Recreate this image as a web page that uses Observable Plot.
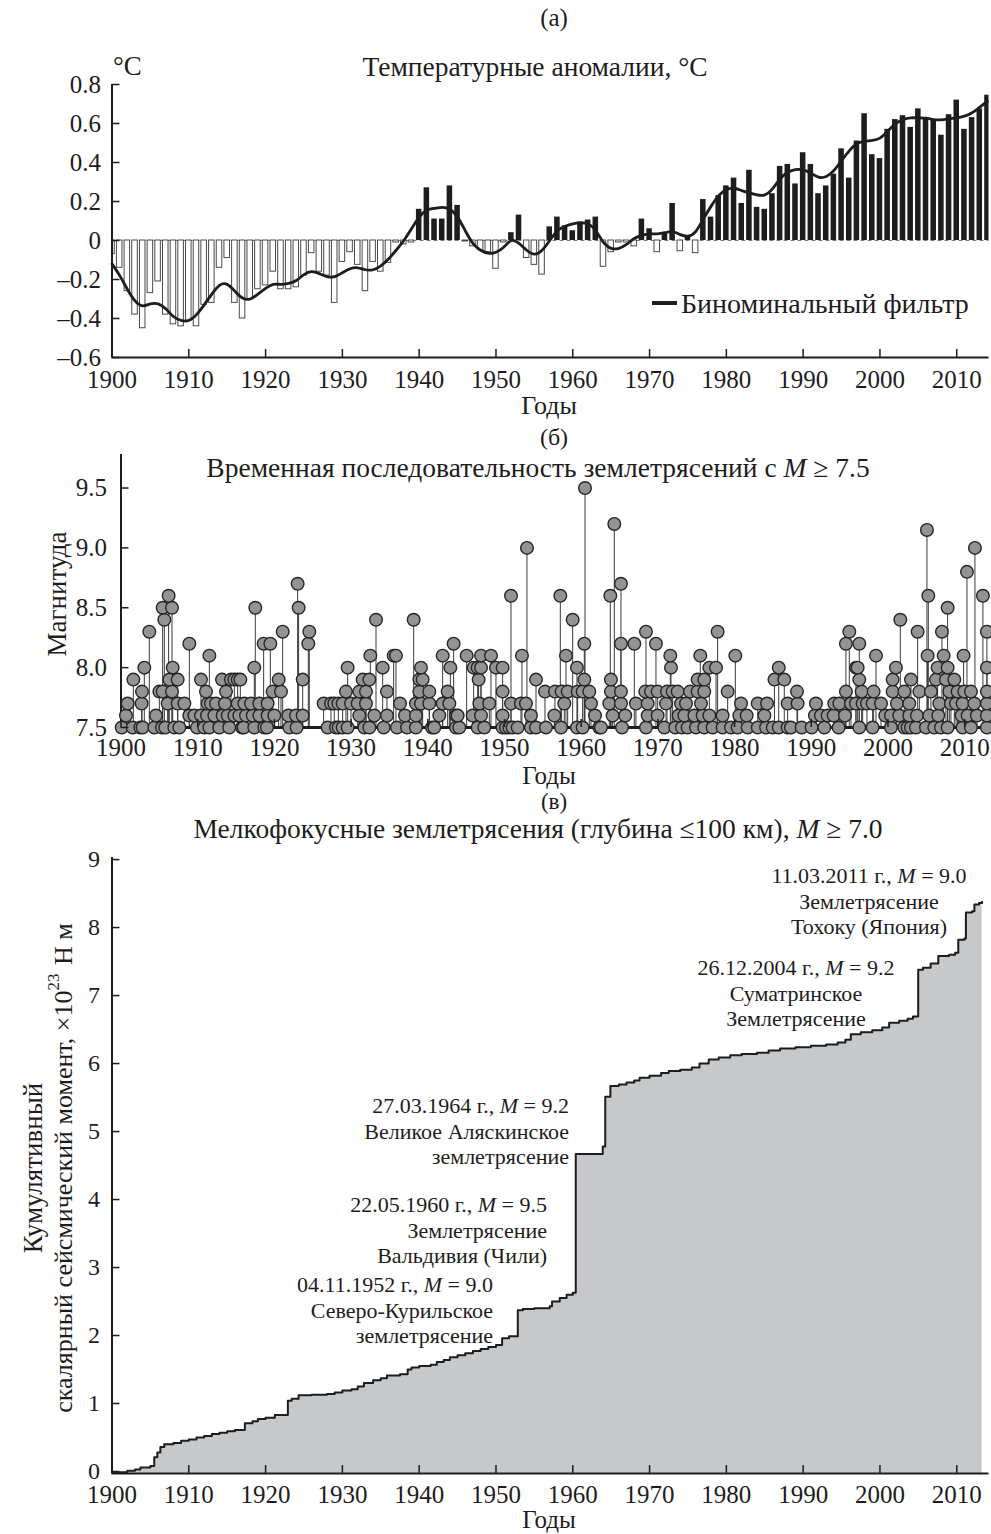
<!DOCTYPE html>
<html><head><meta charset="utf-8">
<script src="https://cdn.jsdelivr.net/npm/d3@7"></script>
<script src="https://cdn.jsdelivr.net/npm/@observablehq/plot@0.6"></script>
<style>
body{margin:0;background:#fff;}
#root{position:relative;width:991px;height:1534px;overflow:hidden;background:#fff;}
.pane{position:absolute;left:0;}
#overlay{position:absolute;left:0;top:0;pointer-events:none;}
</style></head><body><div id="root"></div>
<script>
const FONT = '"Liberation Serif", "Times New Roman", serif';
const INK = "#1e1c1d";

// ---------- Panel (а): temperature anomalies ----------
const tempFirstYear = 1900;
const tempAnomaly = [
  -0.07, -0.14, -0.26, -0.38, -0.45, -0.27, -0.21, -0.38, -0.43, -0.44,
  -0.41, -0.44, -0.33, -0.32, -0.14, -0.09, -0.32, -0.40, -0.30, -0.25,
  -0.23, -0.16, -0.25, -0.25, -0.24, -0.18, -0.065, -0.16, -0.18, -0.32,
  -0.11, -0.06, -0.125, -0.26, -0.11, -0.16, -0.115, -0.01, -0.02, -0.01,
  0.16, 0.27, 0.11, 0.11, 0.28, 0.18, -0.005, -0.03, -0.05, -0.06,
  -0.145, -0.01, 0.04, 0.13, -0.09, -0.125, -0.175, 0.07, 0.12, 0.075,
  0.05, 0.095, 0.105, 0.12, -0.135, -0.06, -0.01, -0.01, -0.03, 0.11,
  0.06, -0.06, 0.035, 0.19, -0.055, 0.02, -0.065, 0.21, 0.12, 0.23,
  0.28, 0.32, 0.19, 0.36, 0.17, 0.16, 0.24, 0.38, 0.39, 0.29,
  0.45, 0.39, 0.24, 0.28, 0.34, 0.47, 0.32, 0.51, 0.65, 0.44,
  0.42, 0.57, 0.62, 0.64, 0.58, 0.675, 0.63, 0.615, 0.54, 0.645,
  0.72, 0.57, 0.63, 0.675, 0.745
];
const binomialFilter = [
  -0.12, -0.18, -0.25, -0.31, -0.335, -0.325, -0.325, -0.35, -0.39, -0.41,
  -0.41, -0.38, -0.33, -0.275, -0.23, -0.225, -0.26, -0.295, -0.30, -0.275,
  -0.245, -0.225, -0.225, -0.22, -0.205, -0.175, -0.16, -0.17, -0.185, -0.185,
  -0.165, -0.145, -0.14, -0.15, -0.15, -0.13, -0.095, -0.05, 0.0, 0.06,
  0.12, 0.155, 0.165, 0.17, 0.16, 0.12, 0.05, -0.015, -0.05, -0.065,
  -0.06, -0.035, 0.0, -0.015, -0.05, -0.07, -0.05, 0.0, 0.05, 0.073,
  0.085, 0.09, 0.085, 0.05, -0.01, -0.04, -0.04, -0.02, 0.01, 0.026,
  0.034, 0.034, 0.04, 0.045, 0.03, 0.022, 0.045, 0.11, 0.175, 0.23,
  0.26, 0.268, 0.256, 0.244, 0.234, 0.234, 0.265, 0.316, 0.35, 0.364,
  0.362, 0.345, 0.325, 0.328, 0.359, 0.41, 0.46, 0.496, 0.508, 0.513,
  0.525, 0.56, 0.598, 0.62, 0.629, 0.629, 0.627, 0.62, 0.619, 0.624,
  0.629, 0.638, 0.655, 0.684, 0.713
];
const yearTicks = [1900, 1910, 1920, 1930, 1940, 1950, 1960, 1970, 1980, 1990, 2000, 2010];
const tempTicks = [-0.6, -0.4, -0.2, 0, 0.2, 0.4, 0.6, 0.8];

// ---------- Panel (б): earthquakes M >= 7.5 (years grouped by magnitude) ----------
const eqM75 = [1900.09, 1901.52, 1902.52, 1902.82, 1904.35, 1905.35, 1905.78, 1906.95, 1907.61, 1909.91, 1910.86, 1911.52, 1912.82, 1914.12, 1915.78, 1915.99, 1917.38, 1918.69, 1919.04, 1921.95, 1922.9, 1926.94, 1928.03, 1928.38, 1928.9, 1929.55, 1931.73, 1932.38, 1934.25, 1935.98, 1937.29, 1938.46, 1940.55, 1940.85, 1943.68, 1944.11, 1946.5, 1947.37, 1949.76, 1950.2, 1950.63, 1951.06, 1951.72, 1953.45, 1954.11,
  1955.41, 1957.37, 1959.45, 1960.19, 1962.36, 1962.58, 1965.32, 1968.45, 1970.84, 1972.27, 1973.14, 1973.88, 1974.97, 1976.05, 1977.14, 1978.44, 1979.53, 1980.4, 1981.71, 1983.02, 1984.11, 1984.98, 1985.76, 1986.92, 1987.35, 1988.75, 1990.05, 1991.7, 1993.57, 1996.26, 1998.0, 2000.39, 2002.13, 2002.56, 2003.0, 2003.65, 2004.96, 2006.04, 2006.91, 2007.78, 2009.73, 2010.82, 2012.9];
const eqM76 = [1900.65, 1904.56, 1908.91, 1909.56, 1910.43, 1911.21, 1912.17, 1913.26, 1913.91, 1914.78, 1915.43, 1916.3, 1917.17, 1918.04, 1919.12, 1919.99, 1921.82, 1922.82, 1923.69, 1931.07, 1933.03, 1934.68, 1937.03, 1938.46, 1941.5, 1943.68, 1943.89, 1945.85, 1946.94, 1949.76, 1953.45,
  1956.5, 1961.8, 1964.1, 1965.75, 1968.67, 1969.97, 1972.71, 1973.45, 1974.76, 1975.84, 1976.71, 1978.44, 1980.62, 1981.58, 1983.89, 1990.48, 1991.26, 1992.13, 1992.92, 1994.39, 1999.65, 2000.39, 2001.48, 2002.78, 2003.78, 2005.39, 2006.56, 2009.6, 2010.39, 2011.6, 2012.9];
const eqM77 = [1900.87, 1902.69, 1906.08, 1907.39, 1908.26, 1911.3, 1911.73, 1912.39, 1913.56, 1915.21, 1916.08, 1916.95, 1918.04, 1919.12, 1926.42, 1927.38, 1927.81, 1928.34, 1928.9, 1929.99, 1930.86, 1931.94, 1936.38, 1938.46, 1939.11, 1940.2, 1941.94, 1942.81, 1946.72, 1948.02, 1950.85, 1952.15, 1952.8,
  1957.8, 1961.28, 1963.67, 1965.19, 1967.14, 1968.67, 1971.06, 1973.01, 1973.67, 1975.62, 1980.84, 1983.02, 1984.24, 1986.92, 1988.22, 1990.61, 1993.0, 1993.66, 1995.18, 1995.83, 1996.7, 1997.26, 1998.0, 1999.09, 2001.17, 2002.78, 2006.69, 2008.21, 2008.87, 2009.73, 2011.26, 2012.9];
const eqM78 = [1902.74, 1905.0, 1905.43, 1906.65, 1911.08, 1913.69, 1919.77, 1920.86, 1929.33, 1931.07, 1931.94, 1934.68, 1938.9, 1940.2, 1942.59, 1949.76,
  1955.28, 1956.58, 1957.45, 1958.24, 1959.54, 1960.19, 1961.06, 1963.88, 1965.19, 1968.36, 1969.1, 1969.97, 1971.19, 1971.93, 1972.58, 1974.19, 1975.18, 1976.05, 1979.1, 1988.14, 1994.52, 1996.57, 1998.13, 2000.61, 2002.13, 2004.09, 2005.6, 2008.0, 2009.08, 2009.95, 2010.82, 2012.9];
const eqM79 = [1901.61, 1906.3, 1907.39, 1910.43, 1913.17, 1914.34, 1914.78, 1915.21, 1915.56, 1920.56, 1923.69, 1931.51, 1932.38, 1938.9, 1939.33, 1946.63, 1954.11,
  1960.41, 1963.88, 1975.18, 1976.05, 1985.2, 1986.48, 1996.26, 2000.61, 2003.0, 2006.26, 2007.56, 2008.65];
const eqM80 = [1903.04, 1906.74, 1917.38, 1929.55, 1934.12, 1939.11, 1942.94, 1945.98, 1946.5, 1946.94, 1948.89, 1949.76,
  1959.45, 1971.71, 1976.71, 1977.58, 1985.76, 1995.83, 1996.05, 2001.04, 2006.47, 2007.78, 2012.9];
const eqM81 = [1911.52, 1932.51, 1935.55, 1935.85, 1941.94, 1945.07, 1946.94, 1948.24, 1952.28,
  1958.02, 1971.62, 1975.53, 1980.1, 1998.44, 2005.17, 2007.26, 2009.86];
const eqM82 = [1908.91, 1918.6, 1919.47, 1924.42, 1943.37, 1960.41, 1965.19, 1966.93, 1969.75, 1994.52, 1996.26];
const eqM83 = [1903.69, 1921.08, 1924.55, 1968.45, 1977.79, 1994.96, 2003.87, 2007.04, 2012.9];
const eqM84 = [1905.65, 1933.25, 1938.16, 1958.89, 2001.61];
const eqM85 = [1905.43, 1906.65, 1917.51, 1923.16, 2007.78];
const eqM86 = [1906.21, 1950.85, 1957.28, 1963.8, 2005.26, 2012.38];
const eqM87 = [1923.03, 1965.19];
const eqM88 = [2010.3];
const eqM90 = [1952.93, 2011.34];
const eqM915 = [2005.08];
const eqM92 = [1964.32];
const eqM95 = [1960.5];
const eqGroups = [[7.5, eqM75], [7.6, eqM76], [7.7, eqM77], [7.8, eqM78], [7.9, eqM79], [8.0, eqM80], [8.1, eqM81], [8.2, eqM82], [8.3, eqM83], [8.4, eqM84], [8.5, eqM85], [8.6, eqM86], [8.7, eqM87], [8.8, eqM88], [9.0, eqM90], [9.15, eqM915], [9.2, eqM92], [9.5, eqM95]];
const magTicks = [7.5, 8.0, 8.5, 9.0, 9.5];

// ---------- Panel (в): cumulative scalar seismic moment, x10^23 N m ----------
const momentYears = [1900.0, 1901.0, 1902.0, 1903.0, 1903.7, 1905.0, 1905.5, 1905.9, 1906.3, 1906.8, 1908.0, 1909.0, 1910.0, 1911.0, 1912.0, 1913.0, 1914.0, 1915.0, 1916.0, 1917.3, 1918.3, 1919.0, 1920.0, 1921.2, 1922.9, 1923.4, 1924.3, 1926.0, 1928.0, 1929.0, 1930.0, 1931.2, 1932.0, 1932.8, 1934.0, 1935.0, 1935.8, 1937.5, 1938.5, 1939.0, 1940.0, 1941.5, 1942.3, 1943.2, 1944.0, 1945.0, 1946.0, 1947.0, 1948.0, 1949.0, 1950.0, 1950.8, 1951.7, 1952.84, 1953.5, 1955.0, 1957.0, 1957.3, 1958.3, 1959.2, 1960.0, 1960.39, 1963.9, 1964.23, 1964.9, 1966.0, 1967.0, 1968.0, 1968.7, 1970.0, 1971.5, 1972.5, 1974.0, 1975.5, 1976.5, 1977.7, 1979.0, 1980.5, 1982.0, 1984.0, 1985.5, 1987.0, 1989.0, 1991.0, 1993.0, 1994.5, 1995.5, 1996.2, 1997.5, 1999.0, 2000.3, 2001.2, 2002.5, 2003.6, 2004.3, 2004.98, 2005.6, 2006.6, 2007.6, 2009.0, 2009.8, 2010.2, 2011.0, 2011.19, 2012.0, 2012.3, 2012.9, 2013.3];
const momentValues = [0.01, 0.02, 0.04, 0.06, 0.09, 0.11, 0.24, 0.31, 0.39, 0.43, 0.45, 0.48, 0.50, 0.53, 0.55, 0.58, 0.60, 0.62, 0.64, 0.74, 0.77, 0.80, 0.82, 0.86, 1.07, 1.10, 1.15, 1.16, 1.17, 1.19, 1.22, 1.24, 1.28, 1.33, 1.37, 1.40, 1.44, 1.46, 1.53, 1.56, 1.58, 1.60, 1.64, 1.67, 1.71, 1.74, 1.77, 1.80, 1.83, 1.86, 1.89, 1.99, 2.02, 2.40, 2.42, 2.43, 2.46, 2.53, 2.58, 2.63, 2.66, 4.70, 4.81, 5.54, 5.70, 5.72, 5.75, 5.78, 5.82, 5.85, 5.89, 5.92, 5.94, 5.97, 6.03, 6.09, 6.12, 6.15, 6.17, 6.19, 6.22, 6.25, 6.27, 6.29, 6.31, 6.34, 6.38, 6.46, 6.49, 6.52, 6.56, 6.63, 6.66, 6.69, 6.72, 7.41, 7.44, 7.50, 7.61, 7.63, 7.66, 7.85, 7.87, 8.25, 8.27, 8.37, 8.39, 8.41];
const momentTicks = [0, 1, 2, 3, 4, 5, 6, 7, 8, 9];

// ---------- build rows ----------
const tempRows = tempAnomaly.map((v, i) => ({year: tempFirstYear + i, value: v, smooth: binomialFilter[i]}));
const quakes = eqGroups.flatMap(([mag, years]) => years.map(year => ({year, mag})));
const momentRows = momentYears.map((year, i) => ({year, value: momentValues[i]}));

const baseStyle = {fontFamily: FONT, fontSize: "25px", color: INK, background: "transparent", overflow: "visible"};
const fmtTemp = d => d === 0 ? "0" : (d < 0 ? "\u2013" : "") + Math.abs(d).toFixed(1);
const half = 0.36;

const plotA = Plot.plot({
  width: 991, height: 420,
  marginLeft: 111.5, marginRight: 2.5, marginTop: 84, marginBottom: 63,
  style: baseStyle,
  x: {domain: [1900, 2014.2], label: null},
  y: {domain: [-0.6, 0.8], label: null},
  marks: [
    Plot.ruleY([0], {stroke: "#7a7a7a", strokeWidth: 1, strokeDasharray: "4,3"}),
    Plot.rect(tempRows.filter(d => d.value < 0), {x1: d => d.year - half, x2: d => d.year + half, y1: 0, y2: "value", fill: "white", stroke: "#4a4a4a", strokeWidth: 1, clip: true}),
    Plot.rect(tempRows.filter(d => d.value >= 0), {x1: d => d.year - half, x2: d => d.year + half, y1: 0, y2: "value", fill: INK, clip: true}),
    Plot.line(tempRows, {x: "year", y: "smooth", stroke: INK, strokeWidth: 2.8, curve: "natural"}),
    Plot.axisX({ticks: yearTicks, tickSize: -8, tickPadding: 21, tickFormat: d => String(d), strokeWidth: 1.5}),
    Plot.axisY({ticks: tempTicks, tickSize: -8, tickPadding: 19, tickFormat: fmtTemp, strokeWidth: 1.5}),
    Plot.ruleX([1900], {stroke: INK, strokeWidth: 2}),
    Plot.ruleY([-0.6], {stroke: INK, strokeWidth: 2})
  ]
});

const plotB = Plot.plot({
  width: 991, height: 340,
  marginLeft: 120.5, marginRight: 0, marginTop: 34, marginBottom: 33,
  style: baseStyle,
  x: {domain: [1900, 2013.5], label: null},
  y: {domain: [7.5, 9.78], label: null},
  marks: [
    Plot.ruleX([1900], {stroke: INK, strokeWidth: 2}),
    Plot.ruleX(quakes, {x: "year", y1: 7.5, y2: "mag", stroke: "#3a3a3a", strokeWidth: 1}),
    Plot.ruleY([7.5], {stroke: INK, strokeWidth: 3}),
    Plot.dot(quakes, {x: "year", y: "mag", r: 6.3, fill: "#939393", stroke: "#262626", strokeWidth: 1.4}),
    Plot.axisX({ticks: yearTicks, tickSize: -8, tickPadding: 19, tickFormat: d => String(d), strokeWidth: 1.5}),
    Plot.axisY({ticks: magTicks, tickSize: -8, tickPadding: 22, tickFormat: d => d.toFixed(1), strokeWidth: 1.5})
  ]
});

const plotC = Plot.plot({
  width: 991, height: 744,
  marginLeft: 111.5, marginRight: 2.5, marginTop: 67, marginBottom: 61,
  style: baseStyle,
  x: {domain: [1900, 2014.2], label: null},
  y: {domain: [0, 9.06], label: null},
  marks: [
    Plot.areaY(momentRows, {x: "year", y: "value", curve: "step-after", fill: "#c7c8ca"}),
    Plot.lineY(momentRows, {x: "year", y: "value", curve: "step-after", stroke: INK, strokeWidth: 2}),
    Plot.axisX({ticks: yearTicks, tickSize: -8, tickPadding: 20, tickFormat: d => String(d), strokeWidth: 1.5}),
    Plot.axisY({ticks: momentTicks, tickSize: -8, tickPadding: 20, tickFormat: d => String(d), strokeWidth: 1.5, fontSize: 24, dy: -2}),
    Plot.ruleX([1900], {stroke: INK, strokeWidth: 2}),
    Plot.ruleY([0], {stroke: INK, strokeWidth: 2})
  ]
});

const root = d3.select("#root");
function place(node, top) {
  root.append("div").attr("class", "pane").style("top", top + "px").node().appendChild(node);
}
place(plotA, 0);
place(plotB, 420);
place(plotC, 790);

// ---------- text overlay: panel letters, titles, axis names, legend, annotations ----------
const overlay = root.append("svg").attr("id", "overlay").attr("width", 991).attr("height", 1534)
  .style("font-family", FONT).attr("fill", INK);

function label(x, y, parts, {size = 24, anchor = "middle", rotate = 0} = {}) {
  const g = overlay.append("g").attr("transform", `translate(${x},${y}) rotate(${rotate})`);
  const t = g.append("text").attr("text-anchor", anchor).attr("dominant-baseline", "central").attr("font-size", size);
  (Array.isArray(parts) ? parts : [parts]).forEach(p => {
    if (typeof p === "string") t.append("tspan").text(p);
    else if (p.sup) { t.append("tspan").attr("dy", -size * 0.38).attr("font-size", size * 0.65).text(p.sup); t.append("tspan").attr("dy", size * 0.38).text("\u200A"); }
    else t.append("tspan").attr("font-style", "italic").text(p.i);
  });
}

// panel (а)
label(554, 17, "(а)", {size: 25});
label(535, 66, "Температурные аномалии, °C", {size: 27.5});
label(113, 66, "°C", {size: 27, anchor: "start"});
label(549, 405, "Годы", {size: 26});
overlay.append("line").attr("x1", 652).attr("x2", 677).attr("y1", 303).attr("y2", 303).attr("stroke", INK).attr("stroke-width", 4);
label(681, 303, "Биноминальный фильтр", {size: 28, anchor: "start"});

// panel (б)
label(554, 437, "(б)", {size: 24});
label(538, 467, ["Временная последовательность землетрясений с ", {i: "M"}, " ≥ 7.5"], {size: 27.5});
label(57, 594, "Магнитуда", {size: 27, rotate: -90});
label(549, 775, "Годы", {size: 25});

// panel (в)
label(554, 801, "(в)", {size: 23});
label(538, 828, ["Мелкофокусные землетрясения (глубина ≤100 км), ", {i: "M"}, " ≥ 7.0"], {size: 27.5});
label(33, 1168, "Кумулятивный", {size: 27, rotate: -90});
label(63, 1168, ["скалярный сейсмический момент, ×10", {sup: "23"}, " Н м"], {size: 26, rotate: -90});
label(549, 1519, "Годы", {size: 25});

const annSize = 22;
const annotations = [
  {x: 869, y: 875, anchor: "middle", lines: [["11.03.2011 г., ", {i: "M"}, " = 9.0"], "Землетрясение", "Тохоку (Япония)"]},
  {x: 796, y: 967, anchor: "middle", lines: [["26.12.2004 г., ", {i: "M"}, " = 9.2"], "Суматринское", "Землетрясение"]},
  {x: 569, y: 1105, anchor: "end", lines: [["27.03.1964 г., ", {i: "M"}, " = 9.2"], "Великое Аляскинское", "землетрясение"]},
  {x: 547, y: 1204, anchor: "end", lines: [["22.05.1960 г., ", {i: "M"}, " = 9.5"], "Землетрясение", "Вальдивия (Чили)"]},
  {x: 493, y: 1284, anchor: "end", lines: [["04.11.1952 г., ", {i: "M"}, " = 9.0"], "Северо-Курильское", "землетрясение"]}
];
annotations.forEach(a => a.lines.forEach((ln, k) => label(a.x, a.y + k * 25.5, ln, {size: annSize, anchor: a.anchor})));
</script></body></html>
